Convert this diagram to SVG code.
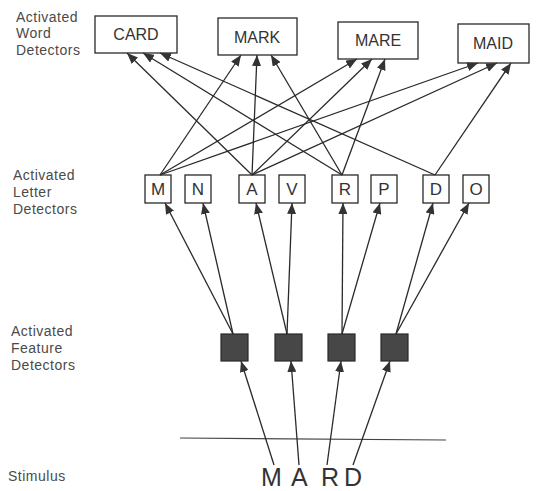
<svg xmlns="http://www.w3.org/2000/svg" width="536" height="491" viewBox="0 0 536 491">
  <style>
    .lbl { font-family: "Liberation Sans", Arial, sans-serif; font-size: 14px; letter-spacing: 0.5px; fill: #4a4a4a; }
    .word rect, .letter rect { fill: #fff; stroke: #2a2a2a; stroke-width: 1.3; }
    .word text { font-family: "Liberation Sans", Arial, sans-serif; font-size: 16px; fill: #333; text-anchor: middle; }
    .letter text { font-family: "Liberation Sans", Arial, sans-serif; font-size: 17px; fill: #333; text-anchor: middle; }
    .feature rect { fill: #474747; stroke: #2a2a2a; stroke-width: 1.2; }
    .edges line { stroke: #2a2a2a; stroke-width: 1.3; marker-end: url(#arrow); }
    .stim { font-family: "Liberation Sans", Arial, sans-serif; font-size: 25px; fill: #333; }
  </style>
  <defs>
    <marker id="arrow" viewBox="0 0 11 9" refX="11" refY="4.5" markerWidth="11" markerHeight="9" markerUnits="userSpaceOnUse" orient="auto">
      <path d="M0,0 L11,4.5 L0,9 z" fill="#333"/>
    </marker>
  </defs>
  <rect width="536" height="491" fill="#fff"/>

  <!-- level labels -->
  <g id="labels">
    <text class="lbl" x="16" y="22">Activated</text>
    <text class="lbl" x="16" y="38">Word</text>
    <text class="lbl" x="16" y="55">Detectors</text>
    <text class="lbl" x="13" y="180">Activated</text>
    <text class="lbl" x="13" y="197">Letter</text>
    <text class="lbl" x="13" y="214">Detectors</text>
    <text class="lbl" x="11" y="336">Activated</text>
    <text class="lbl" x="11" y="353">Feature</text>
    <text class="lbl" x="11" y="370">Detectors</text>
    <text class="lbl" x="8" y="481">Stimulus</text>
  </g>

  <!-- word detectors -->
  <g id="word-card" class="word"><rect x="95" y="16" width="82" height="37"/><text x="136" y="40">CARD</text></g>
  <g id="word-mark" class="word"><rect x="218" y="18" width="79" height="37"/><text x="257" y="43">MARK</text></g>
  <g id="word-mare" class="word"><rect x="338" y="22" width="80" height="37"/><text x="378" y="46">MARE</text></g>
  <g id="word-maid" class="word"><rect x="458" y="24" width="71" height="39"/><text x="493" y="49">MAID</text></g>

  <!-- letter detectors -->
  <g id="letter-m" class="letter"><rect x="145" y="175" width="26" height="28"/><text x="158" y="195">M</text></g>
  <g id="letter-n" class="letter"><rect x="185" y="175" width="26" height="28"/><text x="198" y="195">N</text></g>
  <g id="letter-a" class="letter"><rect x="239" y="175" width="26" height="28"/><text x="252" y="195">A</text></g>
  <g id="letter-v" class="letter"><rect x="279" y="175" width="26" height="28"/><text x="292" y="195">V</text></g>
  <g id="letter-r" class="letter"><rect x="332" y="175" width="26" height="28"/><text x="345" y="195">R</text></g>
  <g id="letter-p" class="letter"><rect x="371" y="175" width="26" height="28"/><text x="384" y="195">P</text></g>
  <g id="letter-d" class="letter"><rect x="423" y="175" width="26" height="28"/><text x="436" y="195">D</text></g>
  <g id="letter-o" class="letter"><rect x="463" y="175" width="26" height="28"/><text x="476" y="195">O</text></g>

  <!-- feature detectors -->
  <g id="feature-1" class="feature"><rect x="221" y="334" width="27" height="27"/></g>
  <g id="feature-2" class="feature"><rect x="275" y="334" width="27" height="27"/></g>
  <g id="feature-3" class="feature"><rect x="328" y="334" width="27" height="27"/></g>
  <g id="feature-4" class="feature"><rect x="381" y="334" width="27" height="27"/></g>

  <!-- stimulus -->
  <g id="stimulus">
    <line x1="180" y1="438" x2="446" y2="440" stroke="#444" stroke-width="1.2"/>
    <text class="stim" x="261 291 321 344" y="486">MARD</text>
  </g>

  <g id="connectors" class="edges">
    <!-- stimulus to features -->
    <line x1="274" y1="465" x2="241" y2="361"/>
    <line x1="299" y1="465" x2="291" y2="361"/>
    <line x1="327" y1="465" x2="341" y2="361"/>
    <line x1="353" y1="465" x2="390" y2="361"/>
    <!-- features to letters -->
    <line x1="233" y1="334" x2="165" y2="203"/>
    <line x1="233" y1="334" x2="203" y2="203"/>
    <line x1="287" y1="334" x2="256" y2="203"/>
    <line x1="287" y1="334" x2="292" y2="203"/>
    <line x1="342" y1="334" x2="343" y2="203"/>
    <line x1="342" y1="334" x2="380" y2="203"/>
    <line x1="396" y1="334" x2="433" y2="203"/>
    <line x1="396" y1="334" x2="469" y2="203"/>
    <!-- letters to words -->
    <line x1="160" y1="175" x2="241" y2="55"/>
    <line x1="160" y1="175" x2="357" y2="59"/>
    <line x1="160" y1="175" x2="478" y2="63"/>
    <line x1="252" y1="175" x2="127" y2="53"/>
    <line x1="252" y1="175" x2="257" y2="55"/>
    <line x1="252" y1="175" x2="372" y2="59"/>
    <line x1="252" y1="175" x2="497" y2="63"/>
    <line x1="342" y1="175" x2="143" y2="53"/>
    <line x1="342" y1="175" x2="271" y2="55"/>
    <line x1="342" y1="175" x2="385" y2="59"/>
    <line x1="435" y1="175" x2="160" y2="53"/>
    <line x1="435" y1="175" x2="511" y2="63"/>
  </g>
</svg>
